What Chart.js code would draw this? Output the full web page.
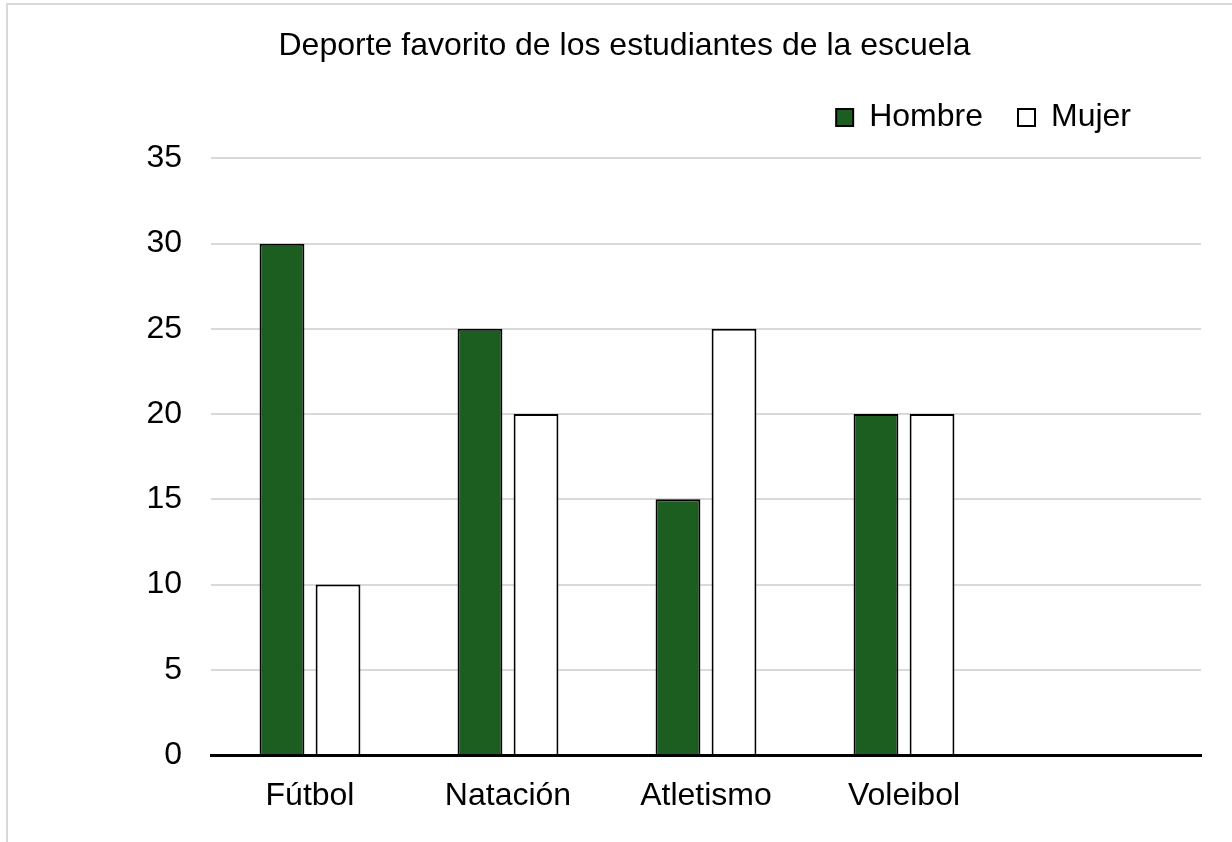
<!DOCTYPE html>
<html>
<head>
<meta charset="utf-8">
<script src="https://cdn.jsdelivr.net/npm/chart.js@4.4.1/dist/chart.umd.min.js"></script>
<style>
    html, body { margin: 0; padding: 0; background: #fff; }
    #frame {
        position: absolute; left: 6px; top: 3px; width: 1300px; height: 900px;
        border-top: 2px solid #d9d9d9; border-left: 2px solid #d9d9d9;
    }
    #chart { position: absolute; left: 0; top: 0; }
</style>
</head>
<body>
<div id="frame"></div>
<canvas id="chart" width="1232" height="842"></canvas>
<script>
// Data
const sports = ['Fútbol', 'Natación', 'Atletismo', 'Voleibol', ''];
const hombre = [30, 25, 15, 20, null];
const mujer = [10, 20, 25, 20, null];
const yTicks = { min: 0, max: 35, step: 5 };

Chart.defaults.font.family = "'Liberation Sans', Arial, sans-serif";
Chart.defaults.color = '#000';

// nudge the legend row left so it lines up with the reference
const legendShift = {
    id: 'legendShift',
    afterLayout(chart) {
        if (chart.legend) chart.legend.right -= 35;
    }
};

new Chart(document.getElementById('chart').getContext('2d'), {
    type: 'bar',
    data: {
        labels: sports,
        datasets: [
            { label: 'Hombre', data: hombre, backgroundColor: '#1b5e20', borderColor: '#000', borderWidth: 2 },
            { label: 'Mujer', data: mujer, backgroundColor: '#fff', borderColor: '#000', borderWidth: 2 }
        ]
    },
    options: {
        responsive: false,
        animation: false,
        devicePixelRatio: 1,
        categoryPercentage: 0.566,
        barPercentage: 0.8,
        layout: { padding: { left: 48, right: 31, top: 0, bottom: 0 } },
        plugins: {
            title: {
                display: true,
                text: 'Deporte favorito de los estudiantes de la escuela',
                font: { size: 32, weight: 'normal' },
                color: '#000',
                padding: { top: 27, bottom: 1 }
            },
            // empty subtitle used as a gap between legend and plot
            subtitle: {
                display: true,
                text: '',
                weight: 500,
                font: { size: 10, lineHeight: 1.5 },
                padding: 0
            },
            legend: {
                position: 'top',
                align: 'end',
                labels: {
                    boxWidth: 17,
                    boxHeight: 17,
                    padding: 35,
                    font: { size: 32 },
                    color: '#000'
                }
            },
            tooltip: { enabled: false }
        },
        scales: {
            x: {
                grid: { display: false },
                border: { color: '#000', width: 3 },
                ticks: { font: { size: 32 }, color: '#000', padding: 14 },
                afterFit(scale) { scale.height = 87; }
            },
            y: {
                min: yTicks.min,
                max: yTicks.max,
                grid: { color: '#d9d9d9', lineWidth: 2, drawTicks: false },
                border: { display: false },
                ticks: { stepSize: yTicks.step, font: { size: 32 }, color: '#000', padding: 29 },
                afterFit(scale) { scale.width = 163; }
            }
        }
    },
    plugins: [legendShift]
});
</script>
</body>
</html>
